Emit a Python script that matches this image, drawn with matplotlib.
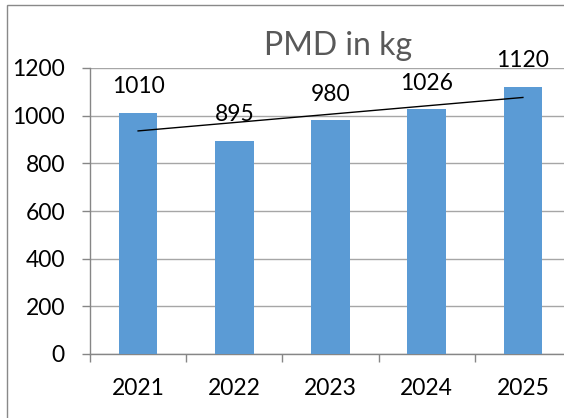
import numpy as np
import matplotlib
matplotlib.use("Agg")
import matplotlib.pyplot as plt
from matplotlib.patches import Rectangle

plt.rcParams['font.family'] = ['Lato', 'DejaVu Sans']

years = ['2021', '2022', '2023', '2024', '2025']
pmd_kg = [1010, 895, 980, 1026, 1120]
title = 'PMD in kg'

W, H = 564, 418
fig = plt.figure(figsize=(W / 100, H / 100), dpi=100)

# plot area runs past the right edge of the picture, like the reference crop
ax_l, ax_r, ax_t, ax_b = 90, 571, 68, 354
ax = fig.add_axes([ax_l / W, 1 - ax_b / H, (ax_r - ax_l) / W, (ax_b - ax_t) / H])

x = np.arange(len(years))
ax.bar(x, pmd_kg, width=0.4, color='#5b9bd5', zorder=3)
for xi, v in zip(x, pmd_kg):
    ax.annotate(str(v), (xi, v), xytext=(0, 19), textcoords='offset points',
                ha='center', va='center', fontsize=16.5, color='black', zorder=4)

# linear trend line
k, b = np.polyfit(x, pmd_kg, 1)
ax.plot(x, k * x + b, color='black', lw=1, zorder=4)

ax.set_xlim(-0.5, len(years) - 0.5)
ax.set_ylim(0, 1200)
ax.set_yticks(range(0, 1201, 200))
ax.set_xticks(np.arange(-0.5, len(years), 1), minor=False)
ax.set_xticklabels([])
ax.set_xticks(x, minor=True)
ax.set_xticklabels(years, minor=True)
ax.tick_params(axis='x', which='minor', length=0, pad=17, labelsize=16.5)
ax.tick_params(axis='x', which='major', length=6, color='#868686', width=1)
ax.tick_params(axis='y', length=6, color='#868686', width=1, pad=12, labelsize=16.5)

ax.grid(axis='y', color='#a6a6a6', lw=1, zorder=0)
for s in ['top', 'right']:
    ax.spines[s].set_visible(False)
for s in ['left', 'bottom']:
    ax.spines[s].set_color('#868686')
    ax.spines[s].set_linewidth(1)

fig.text(338 / W, 1 - 46 / H, title, ha='center', va='center',
         fontsize=23, color='#595959')

# chart border (top and left visible)
fig.add_artist(Rectangle((7 / W, -0.1), 1.2, 1 - 5 / H + 0.1, transform=fig.transFigure,
                         fill=False, edgecolor='#898989', lw=1))

fig.savefig('out.png', dpi=100)
